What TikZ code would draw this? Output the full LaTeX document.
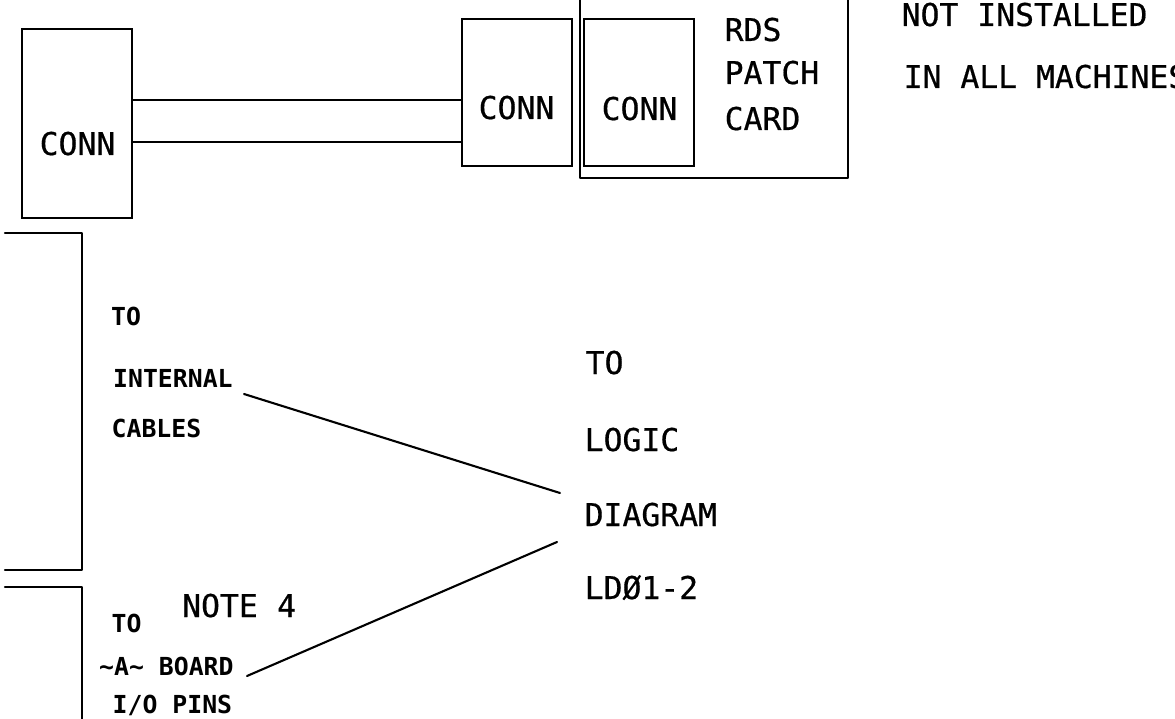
\documentclass[tikz,border=0pt]{standalone}
\usepackage{fontspec}
\setmainfont[FakeBold=0.6]{DejaVu Sans Mono}
\newfontfamily\smallplot{DejaVu Sans Mono}
\begin{document}
\begin{tikzpicture}[x=1pt,y=-1pt,
  wire/.style={line width=2.1pt,line join=round,line cap=round,black},
  box/.style={draw,line width=2.1pt,rectangle,inner sep=0pt},
  big/.style={anchor=base west,inner sep=0pt,font=\fontsize{31.4}{31}\selectfont},
  small/.style={anchor=base west,inner sep=0pt,font=\smallplot\fontsize{24.8}{25}\bfseries\selectfont}]
\useasboundingbox (0,0) rectangle (1175,719);
\clip (0,0) rectangle (1175,719);
% boxes
\node[box,minimum width=110pt,minimum height=189pt] (connA) at (77,123.5) {};
\node[box,minimum width=110pt,minimum height=147pt] (connB) at (517,92.5) {};
\node[box,minimum width=110pt,minimum height=147pt] (connC) at (639,92.5) {};
% cables
\coordinate (upper) at (0,100);
\coordinate (lower) at (0,142);
\draw[wire] (connA.east |- upper) -- (connB.west |- upper);
\draw[wire] (connA.east |- lower) -- (connB.west |- lower);
% patch card, open at top
\coordinate (cardTL) at (580,-3);
\coordinate (cardBL) at (580,178);
\coordinate (cardBR) at (848,178);
\coordinate (cardTR) at (848,-3);
\draw[wire] (cardTL) -- (cardBL) -- (cardBR) -- (cardTR);
% brackets
\coordinate (brA1) at (5,233);
\coordinate (brA2) at (82,233);
\coordinate (brA3) at (82,570);
\coordinate (brA4) at (5,570);
\coordinate (brB1) at (5,587);
\coordinate (brB2) at (82,587);
\coordinate (brB3) at (82,722);
\draw[wire] (brA1) -- (brA2) -- (brA3) -- (brA4);
\draw[wire] (brB1) -- (brB2) -- (brB3);
% leaders
\coordinate (fromInternal) at (244,394);
\coordinate (fromBoard) at (247,676);
\coordinate (toDiagramA) at (560,493);
\coordinate (toDiagramB) at (557,542);
\draw[wire] (fromInternal) -- (toDiagramA);
\draw[wire] (fromBoard) -- (toDiagramB);
% big text
\node[big] (t1) at (39.5,155) {CONN};
\node[big] (t2) at (478.5,119) {CONN};
\node[big] (t3) at (601.5,120) {CONN};
\node[big] (t4) at (724.5,41) {RDS};
\node[big] (t5) at (724.5,84) {PATCH};
\node[big] (t6) at (724.5,130) {CARD};
\node[big] (t7) at (901.5,26) {NOT INSTALLED};
\node[big] (t8) at (903.5,88) {IN ALL MACHINES};
\node[big] (t9) at (585.5,374) {TO};
\node[big] (t10) at (584.5,451) {LOGIC};
\node[big] (t11) at (584.5,526) {DIAGRAM};
\node[big] (t12) at (584.5,599) {LDØ1-2};
\node[big] (t13) at (182,617) {NOTE};
\node[big] (t14) at (277,617) {4};
% small text
\node[small] (s1) at (111,325) {TO};
\node[small] (s2) at (113,387) {INTERNAL};
\node[small] (s3) at (111.5,437) {CABLES};
\node[small] (s4) at (111.5,632) {TO};
\node[small] (s5) at (99,675) {\symbol{126}A\symbol{126} BOARD};
\node[small] (s6) at (112.5,713) {I/O PINS};
\end{tikzpicture}
\end{document}
